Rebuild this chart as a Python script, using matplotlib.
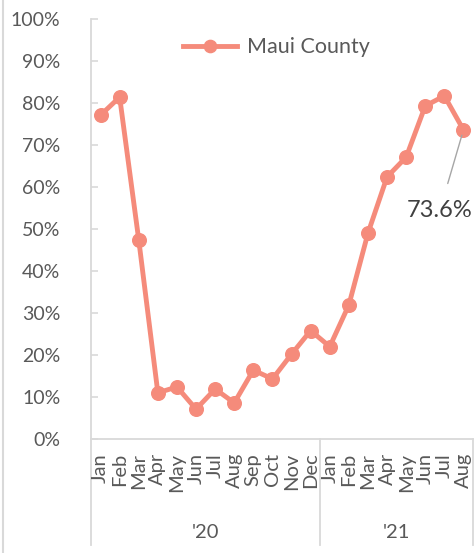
import numpy as np
import matplotlib.pyplot as plt
from matplotlib.transforms import blended_transform_factory

months = ['Jan', 'Feb', 'Mar', 'Apr', 'May', 'Jun', 'Jul', 'Aug', 'Sep', 'Oct', 'Nov', 'Dec',
          'Jan', 'Feb', 'Mar', 'Apr', 'May', 'Jun', 'Jul', 'Aug']
years = ["'20", "'21"]
year_counts = [12, 8]
maui = [77.1, 81.4, 47.4, 11.0, 12.4, 7.1, 11.9, 8.6, 16.4, 14.3, 20.2, 25.8,
        22.0, 31.9, 49.0, 62.4, 67.1, 79.3, 81.7, 73.6]

plt.rcParams['font.family'] = ['Lato', 'DejaVu Sans']
col = '#F58B7B'
txt = '#595959'
axc = '#D9D9D9'

fig = plt.figure(figsize=(4.75, 5.53), dpi=100)
ax = fig.add_axes([91/475, 1-439/553, 382/475, 420/553])

x = np.arange(len(maui))
ax.plot(x, maui, color=col, lw=3.5, marker='o', ms=9.8, label='Maui County', zorder=3)

ax.set_xlim(-0.5, len(maui) - 0.5)
ax.set_ylim(0, 100)
ax.set_yticks(np.arange(0, 101, 10))
ax.set_yticklabels([f'{v}%' for v in range(0, 101, 10)], fontsize=14, color=txt)
ax.tick_params(axis='y', direction='in', length=5, width=1.2, color=axc, pad=22)
ax.set_xticks([])
for s in ['top', 'right']:
    ax.spines[s].set_visible(False)
for s in ['left', 'bottom']:
    ax.spines[s].set_color(axc)
    ax.spines[s].set_linewidth(1.3)

# month labels
tr = blended_transform_factory(ax.transData, ax.transAxes)
for i, m in enumerate(months):
    ax.text(i, -0.033, m, rotation=90, ha='center', va='top', fontsize=14.5,
            color=txt, transform=tr)

# year groups with separators
edges = np.concatenate([[0], np.cumsum(year_counts)]) - 0.5
for e in edges:
    ax.plot([e, e], [0, -0.252], color=axc, lw=1.3, transform=tr, clip_on=False)
for k, yl in enumerate(years):
    mid = (edges[k] + edges[k + 1]) / 2
    ax.text(mid, -0.222, yl, ha='center', va='center', fontsize=14.5, color=txt, transform=tr)

# data label on last point
ax.annotate(f'{maui[-1]:.1f}%', xy=(x[-1], maui[-1]), xytext=(17.77, 54.5),
            fontsize=17, color='#404040', ha='center', va='center',
            arrowprops=dict(arrowstyle='-', color='#A6A6A6', lw=1, shrinkA=10, shrinkB=4))

leg = ax.legend(loc='upper center', bbox_to_anchor=(0.485, 1.003), frameon=False,
                fontsize=15.5, handlelength=2.5, handletextpad=0.45, labelcolor=txt,
                markerscale=0.9)

# left border of chart area
fig.add_artist(plt.Line2D([3/475, 3/475], [0, 1], color=axc, lw=1.5))

fig.savefig('out.png', dpi=100)
